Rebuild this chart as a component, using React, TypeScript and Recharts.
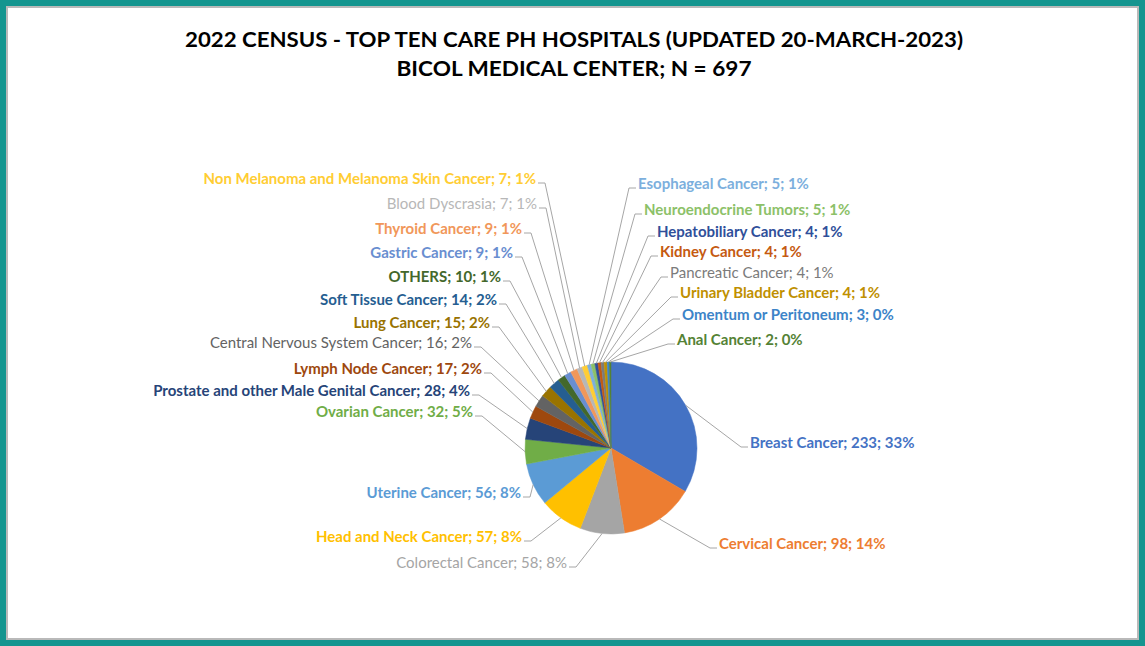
import React from "react";
import { PieChart, Pie, Cell } from "recharts";

const categories = [
  "Breast Cancer",
  "Cervical Cancer",
  "Colorectal Cancer",
  "Head and Neck Cancer",
  "Uterine Cancer",
  "Ovarian Cancer",
  "Prostate and other Male Genital Cancer",
  "Lymph Node Cancer",
  "Central Nervous System Cancer",
  "Lung Cancer",
  "Soft Tissue Cancer",
  "OTHERS",
  "Gastric Cancer",
  "Thyroid Cancer",
  "Blood Dyscrasia",
  "Non Melanoma and Melanoma Skin Cancer",
  "Esophageal Cancer",
  "Neuroendocrine Tumors",
  "Hepatobiliary Cancer",
  "Kidney Cancer",
  "Pancreatic Cancer",
  "Urinary Bladder Cancer",
  "Omentum or Peritoneum",
  "Anal Cancer",
];

const counts = [233, 98, 58, 57, 56, 32, 28, 17, 16, 15, 14, 10, 9, 9, 7, 7, 5, 5, 4, 4, 4, 4, 3, 2];

const colors = [
  "#4472C4", "#ED7D31", "#A5A5A5", "#FFC000", "#5B9BD5", "#70AD47",
  "#264478", "#9E480E", "#636363", "#997300", "#255E91", "#43682B",
  "#698ED0", "#F1975A", "#B7B7B7", "#FFCD33", "#7CAFDD", "#8CC168",
  "#2F4F9A", "#C55A11", "#7B7B7B", "#BF9000", "#3C84C8", "#548235",
];

// label placement relative to the pie centre: side, dx, dy
const labelLayout: [string, number, number][] = [
  ["R", 139, -5],
  ["R", 108, 96],
  ["L", -44, 115],
  ["L", -89, 89],
  ["L", -90, 45],
  ["L", -138, -36],
  ["L", -141, -57],
  ["L", -129, -79],
  ["L", -139, -105],
  ["L", -121, -125],
  ["L", -114, -148],
  ["L", -110, -171],
  ["L", -98, -195],
  ["L", -89, -219],
  ["L", -74, -244],
  ["L", -75, -269],
  ["R", 27, -264],
  ["R", 33, -238],
  ["R", 46, -216],
  ["R", 49, -196],
  ["R", 59, -175],
  ["R", 69, -155],
  ["R", 71, -133],
  ["R", 66, -108],
];

const regularWeight = [2, 8, 14, 20];

const TOTAL = counts.reduce((a, b) => a + b, 0);
const data = categories.map((name, i) => ({
  name,
  value: counts[i],
  pct: Math.round((counts[i] / TOTAL) * 100),
}));

const FONT = "Lato, 'Open Sans', sans-serif";

const renderLabel = (props: any) => {
  const { cx, cy, midAngle, outerRadius, index } = props;
  const [side, dx, dy] = labelLayout[index];
  const RAD = Math.PI / 180;
  const sx = cx + outerRadius * Math.cos(-midAngle * RAD);
  const sy = cy + outerRadius * Math.sin(-midAngle * RAD);
  const tx = cx + dx;
  const ty = cy + dy;
  const ly = ty + 4;
  const ex = side === "R" ? tx - 2 : tx + 2;
  const mx = side === "R" ? tx - 9 : tx + 9;
  const d = data[index];
  return (
    <g key={`lbl-${index}`}>
      <polyline
        points={`${sx},${sy} ${mx},${ly} ${ex},${ly}`}
        fill="none"
        stroke="#A6A6A6"
        strokeWidth={1}
      />
      <text
        x={tx}
        y={ty}
        dy="0.35em"
        textAnchor={side === "R" ? "start" : "end"}
        fill={colors[index]}
        fontSize={15}
        fontFamily={FONT}
        fontWeight={regularWeight.includes(index) ? 400 : 700}
      >
        {`${d.name}; ${d.value}; ${d.pct}%`}
      </text>
    </g>
  );
};

export default function App() {
  return (
    <div
      style={{
        position: "absolute",
        left: 0,
        top: 0,
        width: 1145,
        height: 646,
        boxSizing: "border-box",
        background: "#14958F",
        padding: 6,
      }}
    >
      <div
        style={{
          position: "relative",
          width: "100%",
          height: "100%",
          boxSizing: "border-box",
          border: "2px solid #B9B9B9",
          background: "#FFFFFF",
        }}
      />
      <svg
        width={1145}
        height={100}
        style={{ position: "absolute", left: 0, top: 0 }}
      >
        <text
          x={574}
          y={47}
          textAnchor="middle"
          fontFamily={FONT}
          fontWeight={700}
          fontSize={21}
          fill="#000"
          textLength={778}
          lengthAdjust="spacingAndGlyphs"
        >
          2022 CENSUS - TOP TEN CARE PH HOSPITALS (UPDATED 20-MARCH-2023)
        </text>
        <text
          x={574}
          y={76}
          textAnchor="middle"
          fontFamily={FONT}
          fontWeight={700}
          fontSize={21}
          fill="#000"
          textLength={355}
          lengthAdjust="spacingAndGlyphs"
        >
          BICOL MEDICAL CENTER; N = 697
        </text>
      </svg>
      <div style={{ position: "absolute", left: 0, top: 0 }}>
        <PieChart width={1145} height={646} margin={{ top: 0, right: 0, bottom: 0, left: 0 }}>
          <Pie
            data={data}
            dataKey="value"
            nameKey="name"
            cx={611}
            cy={448}
            outerRadius={86}
            startAngle={90}
            endAngle={-270}
            isAnimationActive={false}
            labelLine={false}
            label={renderLabel}
            stroke="none"
          >
            {data.map((d, i) => (
              <Cell key={d.name} fill={colors[i]} stroke={colors[i]} strokeWidth={0.5} />
            ))}
          </Pie>
        </PieChart>
      </div>
    </div>
  );
}
